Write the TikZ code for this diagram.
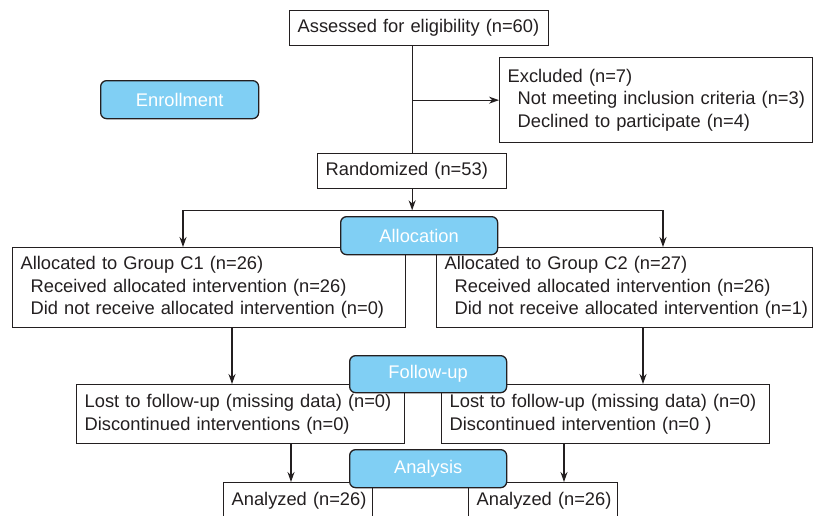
\documentclass[tikz,border=0pt]{standalone}
\usepackage{fontspec}
\setmainfont{Liberation Sans}
\usetikzlibrary{arrows.meta,calc}
\definecolor{phaseblue}{RGB}{128,207,244}
\definecolor{inkgray}{RGB}{35,31,32}
\newcommand{\boxrow}[1]{\mbox{#1}}
\newcommand{\subrow}[1]{\mbox{\hspace*{10pt}#1}}

\begin{document}
\begin{tikzpicture}[x=1pt,y=-1pt,
    font=\fontsize{18.3}{22.5}\selectfont,
    box/.style={draw=inkgray,line width=1.3pt,fill=white,anchor=north west,
      inner xsep=8pt,inner ysep=0pt,align=left,text=inkgray},
    phase/.style={draw=inkgray,line width=1.3pt,fill=phaseblue,rounded corners=6pt,
      anchor=north west,text=white,inner sep=0pt},
    arr/.style={-{Stealth[length=10pt,width=7pt]},line width=1.3pt,draw=inkgray},
    link/.style={line width=1.3pt,draw=inkgray}]
    \useasboundingbox (0,0) rectangle (814,515);
    \clip (0,0) rectangle (814,515);

    % boxes
    \node[box,text width=243pt,minimum height=35pt] (elig) at (289,10)
      {\boxrow{Assessed for eligibility (n=60)}};
    \node[box,text width=297pt,minimum height=85pt] (excl) at (499,57)
      {\boxrow{Excluded (n=7)}\\\subrow{Not meeting inclusion criteria (n=3)}\\\subrow{Declined to participate (n=4)}};
    \node[box,text width=173pt,minimum height=35pt] (rand) at (317,153)
      {\boxrow{Randomized (n=53)}};
    \node[box,text width=377pt,minimum height=80pt] (c1) at (12,247)
      {\boxrow{Allocated to Group C1 (n=26)}\\\subrow{Received allocated intervention (n=26)}\\\subrow{Did not receive allocated intervention (n=0)}};
    \node[box,text width=360pt,minimum height=80pt] (c2) at (436,247)
      {\boxrow{Allocated to Group C2 (n=27)}\\\subrow{Received allocated intervention (n=26)}\\\subrow{Did not receive allocated intervention (n=1)}};
    \node[box,text width=312pt,minimum height=59pt] (fu1) at (76,384)
      {\boxrow{Lost to follow-up (missing data) (n=0)}\\\boxrow{Discontinued interventions (n=0)}};
    \node[box,text width=312pt,minimum height=59pt] (fu2) at (441,384)
      {\boxrow{Lost to follow-up (missing data) (n=0)}\\\boxrow{Discontinued intervention (n=0 )}};
    \node[box,text width=133pt,minimum height=36pt] (an1) at (223,482)
      {\boxrow{Analyzed (n=26)}};
    \node[box,text width=133pt,minimum height=36pt] (an2) at (468,482)
      {\boxrow{Analyzed (n=26)}};

    % connectors
    \coordinate (split) at ($(rand.south)+(0,21)$);
    \coordinate (gA) at (183,0);
    \coordinate (gB) at (663,0);
    \coordinate (dA) at (232,0);
    \coordinate (dB) at (643,0);
    \coordinate (eA) at (291,0);
    \coordinate (eB) at (564,0);
    \draw[link] (rand.north |- elig.south) -- (rand.north);
    \draw[arr] (rand.north |- excl.west) -- (excl.west);
    \draw[arr] (rand.south) -- (split);
    \draw[arr] (split) -| (gA |- c1.north);
    \draw[arr] (split) -| (gB |- c2.north);
    \draw[arr] (dA |- c1.south) -- (dA |- fu1.north);
    \draw[arr] (dB |- c2.south) -- (dB |- fu2.north);
    \draw[arr] (eA |- fu1.south) -- (eA |- an1.north);
    \draw[arr] (eB |- fu2.south) -- (eB |- an2.north);

    % phase labels
    \node[phase,minimum width=158pt,minimum height=38pt] (enrol) at (100,80) {Enrollment};
    \node[phase,minimum width=157pt,minimum height=38pt] (alloc) at (340,216) {Allocation};
    \node[phase,minimum width=157pt,minimum height=37pt] (follow) at (349,355) {Follow-up};
    \node[phase,minimum width=157pt,minimum height=38pt] (analysis) at (349,449) {Analysis};
\end{tikzpicture}
\end{document}
